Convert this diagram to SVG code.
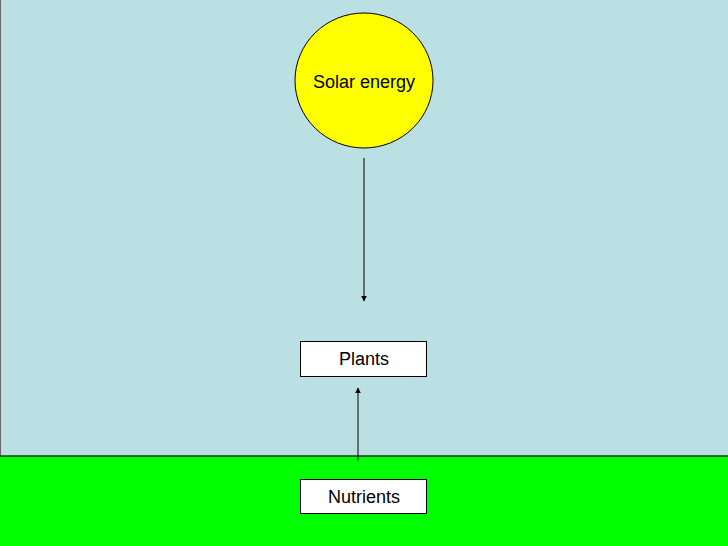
<svg xmlns="http://www.w3.org/2000/svg" width="728" height="546" viewBox="0 0 728 546">
<style>
.lbl{font-family:"Liberation Sans",Arial,sans-serif;font-size:18px;fill:#000;text-anchor:middle}
.box{fill:#fff;stroke:#000;stroke-width:1}
.con{stroke:#000;stroke-width:1;fill:none}
</style>
<defs>
<marker id="ah" viewBox="0 0 10 10" refX="9" refY="5" markerWidth="6" markerHeight="6" markerUnits="userSpaceOnUse" orient="auto">
<path d="M0,0 L10,5 L0,10 z" fill="#000"/>
</marker>
</defs>
<rect x="0" y="0" width="728" height="456" fill="#BBE0E3"/>
<line x1="0.5" y1="0" x2="0.5" y2="456" stroke="#666" stroke-width="1"/>
<rect x="0" y="456" width="728" height="90" fill="#00FF00"/>
<line x1="0" y1="456" x2="728" y2="456" stroke="#1a3a1a" stroke-width="1.5"/>
<g id="connectors">
<line class="con" x1="364" y1="158" x2="364" y2="301" marker-end="url(#ah)"/>
<line class="con" x1="358" y1="461" x2="358" y2="388" marker-end="url(#ah)"/>
</g>
<g id="solar">
<ellipse cx="364" cy="80.5" rx="69" ry="67.5" fill="#FFFF00" stroke="#000" stroke-width="1"/>
<text class="lbl" x="364" y="88">Solar energy</text>
</g>
<g id="plants">
<rect class="box" x="300.5" y="341.5" width="126" height="35"/>
<text class="lbl" x="364" y="365">Plants</text>
</g>
<g id="nutrients">
<rect class="box" x="300.5" y="479.5" width="126" height="34"/>
<text class="lbl" x="364" y="503">Nutrients</text>
</g>
</svg>
